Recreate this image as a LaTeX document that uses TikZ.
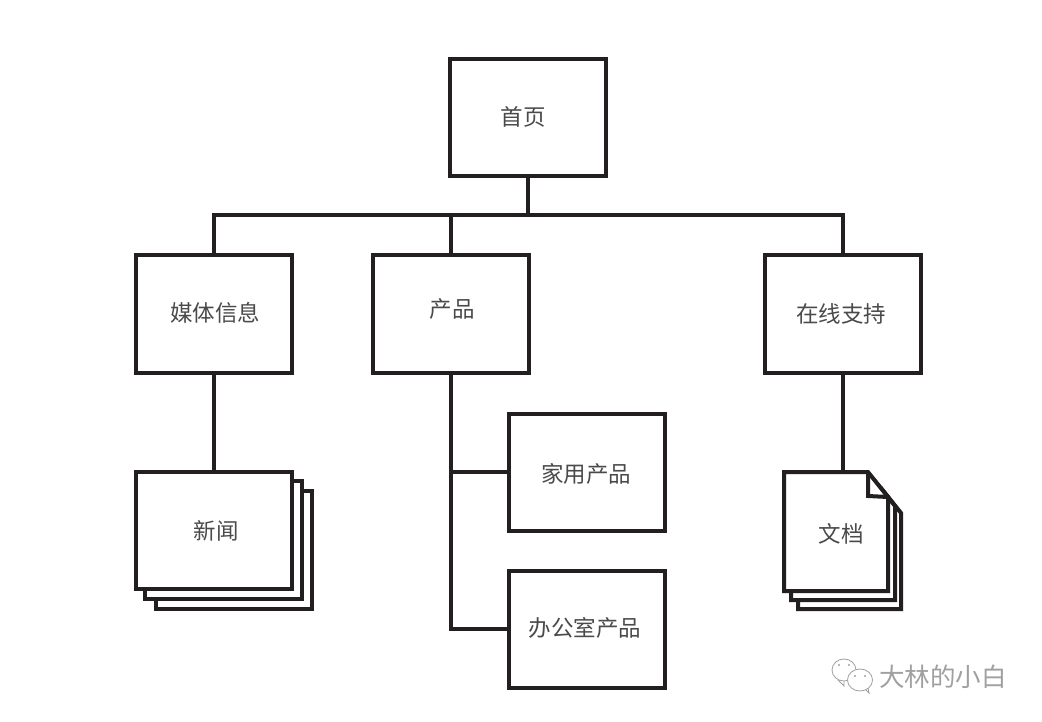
\documentclass[tikz,border=0pt]{standalone}
\usepackage{fontspec}
\setmainfont{Noto Sans CJK SC}
\begin{document}
\begin{tikzpicture}[x=1pt,y=-1pt,
  line width=4pt,
  boxnode/.style={draw=ink,fill=white,minimum width=156pt,minimum height=117pt,inner sep=0pt,line join=miter,text=txt,font=\fontsize{22}{26}\selectfont},
  sheet/.style={draw=ink,fill=white,line width=4pt,line join=miter},
  conn/.style={draw=ink,line width=4pt},
  lbl/.style={text=txt,inner sep=0pt,font=\fontsize{22.5}{26}\selectfont},
  bubble/.style={draw=wm,line width=0.8pt,fill=white}]
\definecolor{ink}{HTML}{231F20}
\definecolor{txt}{HTML}{4A4A4A}
\definecolor{wm}{HTML}{A0A0A0}
\useasboundingbox (0,0) rectangle (1042,722);
\fill[white] (0,0) rectangle (1042,722);

\node[boxnode] (root) at (528,118) {};
\node[boxnode] (media) at (214,314) {};
\node[boxnode] (prod) at (450.5,314) {};
\node[boxnode] (support) at (842.5,314) {};
\node[boxnode] (home) at (587,472) {};
\node[boxnode] (office) at (587,629) {};
\node[lbl] (troot) at (523,117) {首页};
\node[lbl] (tmedia) at (215,313) {媒体信息};
\node[lbl] (tprod) at (452,309) {产品};
\node[lbl] (tsupport) at (841,314) {在线支持};
\node[lbl] (thome) at (586,474) {家用产品};
\node[lbl] (toffice) at (585,628) {办公室产品};

% news stack
\draw[sheet] (156,491) rectangle (312,609);
\draw[sheet] (145,481) rectangle (302,599);
\node[boxnode] (news) at (214,530) {};
\node[lbl] (tnews) at (216,531) {新闻};

% document stack
\draw[sheet] (798,609) -- (901,609) -- (901,513) -- (881,488) -- (798,488) -- cycle;
\draw[sheet] (791,600) -- (895,600) -- (895,506) -- (875,481) -- (791,481) -- cycle;
\draw[sheet] (784,591) -- (888,591) -- (888,497) -- (868,472) -- (784,472) -- cycle;
\draw[sheet,fill=none] (868,472) -- (868,496) -- (888,497);
\coordinate (doctop) at (842.5,472);
\node[lbl] (tdoc) at (841,534) {文档};

% connectors
\coordinate (bus) at (528,215);
\draw[conn] (root.south) -- (bus);
\draw[conn] (media.north) |- (bus);
\draw[conn] (support.north) |- (bus);
\draw[conn] (prod.north) -- (prod.north |- bus);
\draw[conn] (media.south) -- (news.north);
\draw[conn] (support.south) -- (doctop);
\draw[conn] (prod.south) |- (home.west);
\draw[conn] (prod.south) |- (office.west);

% watermark
\draw[bubble] (844,670) ellipse (12 and 11);
\draw[wm,line width=0.8pt] (838,680) -- (844,686) -- (844,681);
\draw[bubble] (860,680) ellipse (12.5 and 11);
\draw[wm,line width=0.8pt] (866,690) -- (869,693) -- (868,688);
\fill[wm] (839,665) circle (1.1) (849,665) circle (1.1) (855,676) circle (1.1) (865,676) circle (1.1);
\node[text=wm,inner sep=0pt,font=\fontsize{25.5}{28}\selectfont] (wmtext) at (943,677) {大林的小白};
\end{tikzpicture}
\end{document}
